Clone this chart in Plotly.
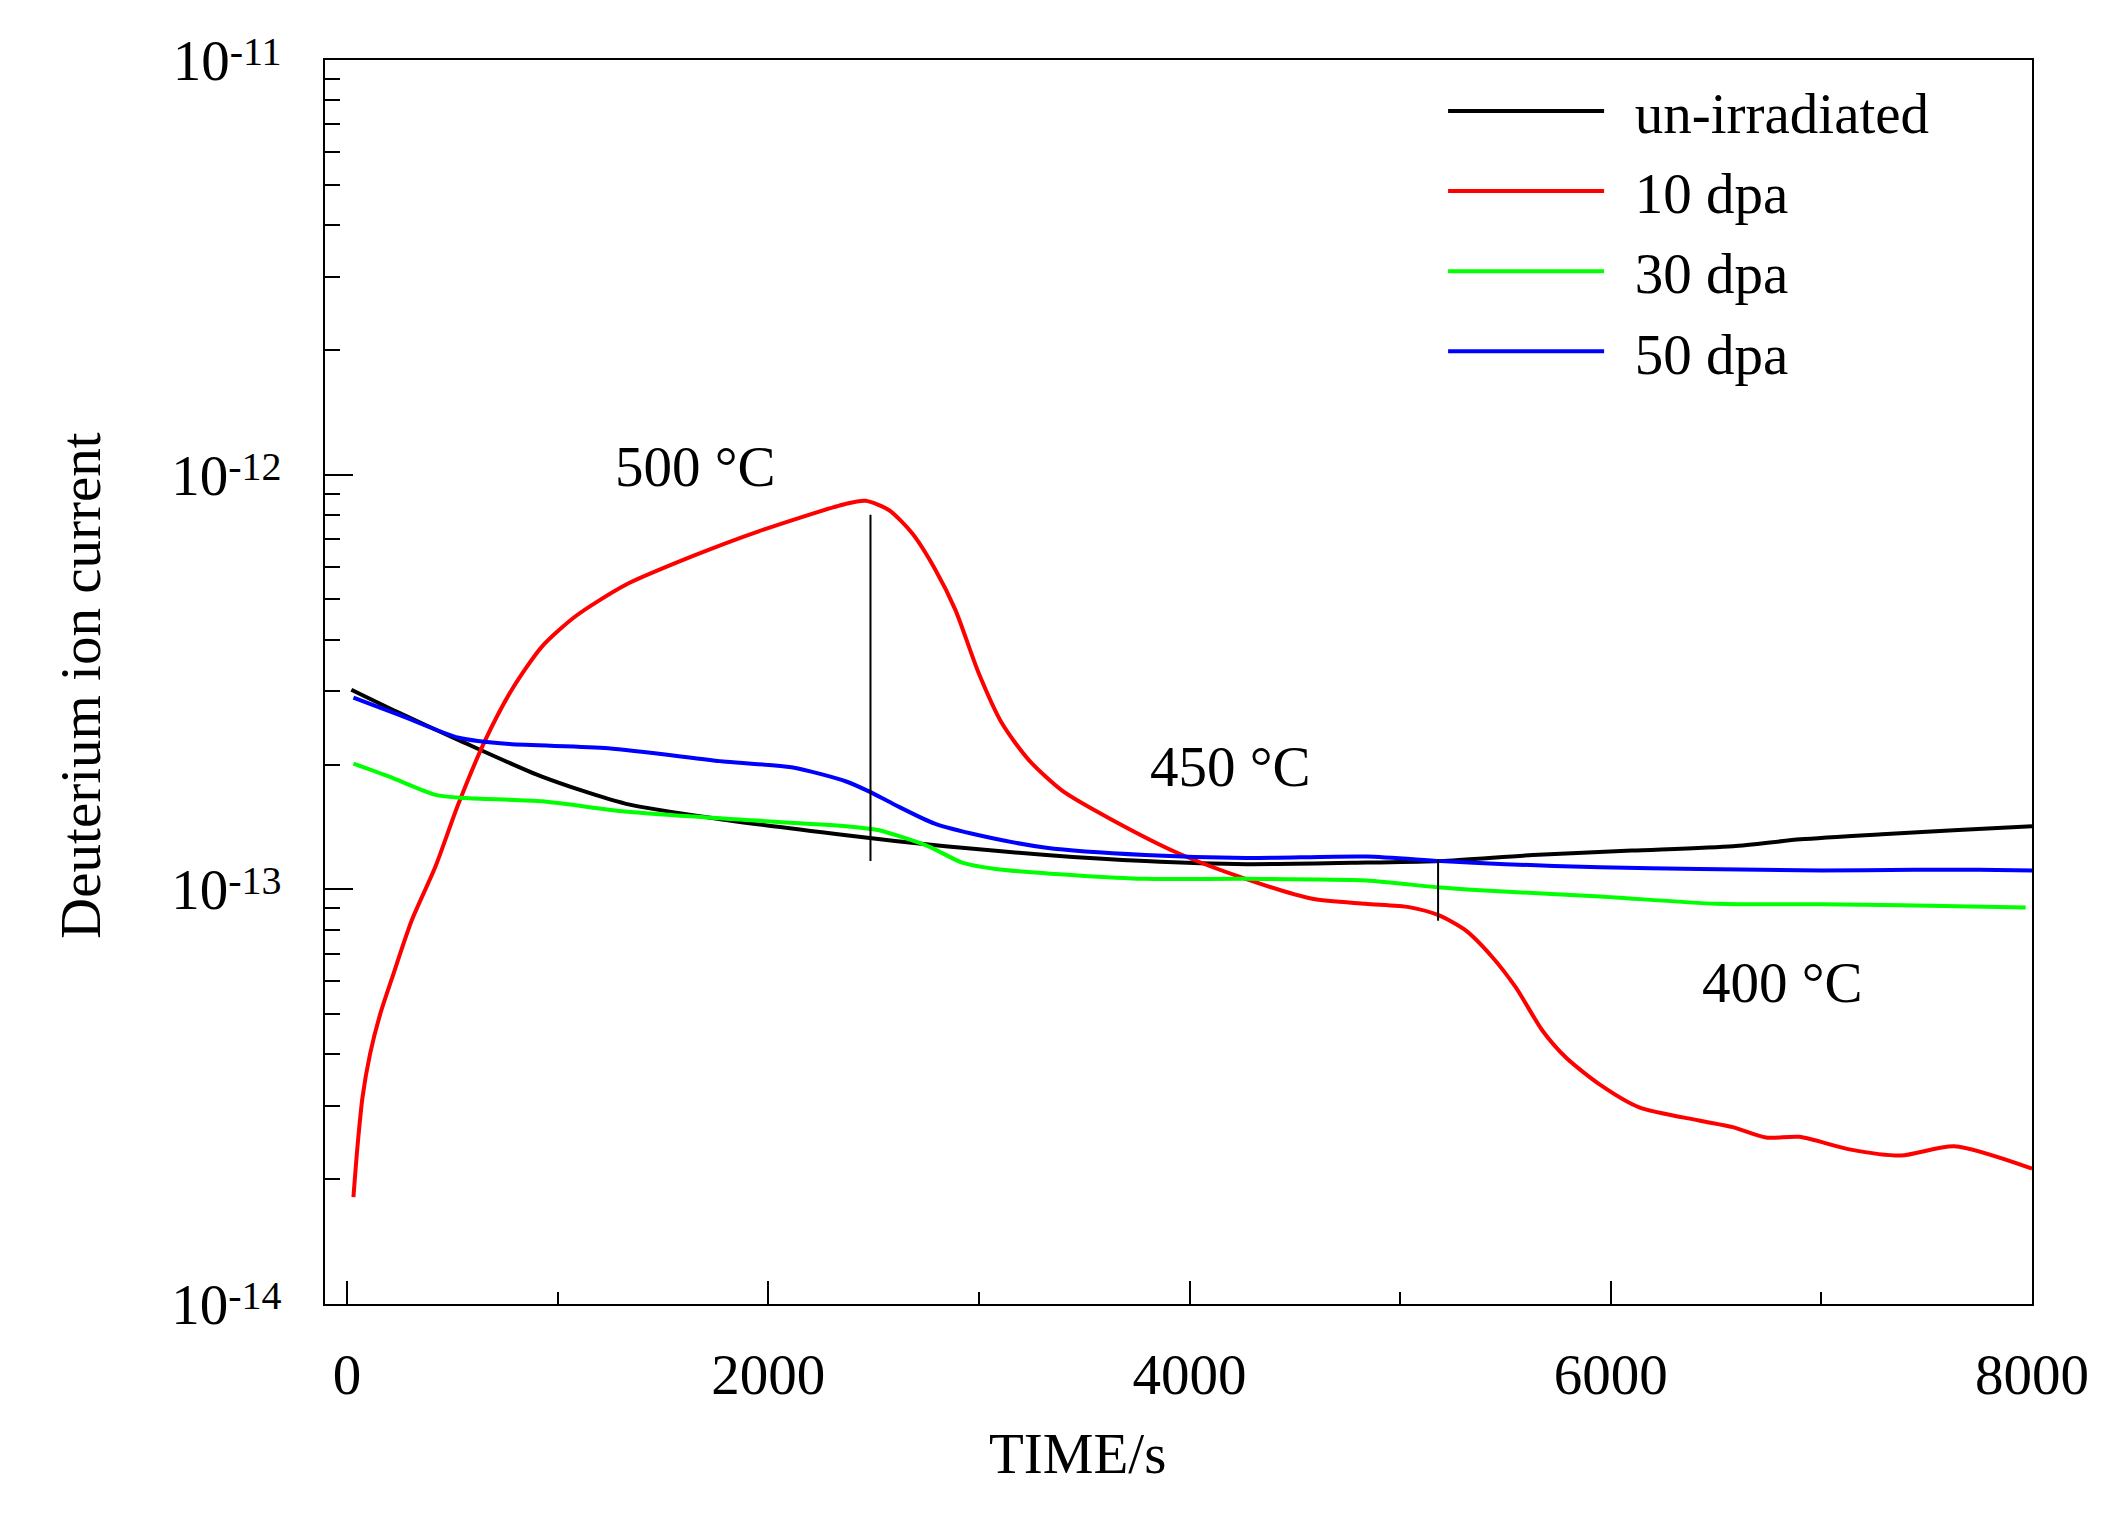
import math
import plotly.graph_objects as go

# ---------------- data ----------------
series_names = ["un-irradiated", "10 dpa", "30 dpa", "50 dpa"]
series_colors = ["#000000", "#ff0000", "#00ff00", "#0000ff"]

unirr_t = [20, 250, 530, 925, 1320, 1800, 2370, 2840, 3320, 3790, 4270, 4840,
           5190, 5630, 6100, 6580, 6900, 7310, 7650, 8000]
unirr_i = [3.03e-13, 2.66e-13, 2.29e-13, 1.87e-13, 1.61e-13, 1.47e-13, 1.35e-13,
           1.27e-13, 1.21e-13, 1.17e-13, 1.15e-13, 1.16e-13, 1.17e-13, 1.21e-13,
           1.24e-13, 1.27e-13, 1.32e-13, 1.36e-13, 1.39e-13, 1.42e-13]

dpa10_t = [30, 49, 73, 109, 157, 212, 307, 418, 529, 656, 782, 925, 1083, 1321,
           1637, 1954, 2366, 2461, 2572, 2683, 2793, 2888, 2999, 3110, 3237, 3395,
           3633, 3949, 4266, 4583, 4836, 5042, 5185, 5311, 5438, 5549, 5676, 5787,
           5945, 6135, 6420, 6579, 6737, 6895, 7133, 7378, 7631, 8000]
dpa10_i = [1.81e-14, 2.39e-14, 3.15e-14, 4.01e-14, 5.00e-14, 6.08e-14, 8.42e-14,
           1.13e-13, 1.61e-13, 2.29e-13, 3.03e-13, 3.85e-13, 4.55e-13, 5.42e-13,
           6.35e-13, 7.30e-13, 8.50e-13, 8.65e-13, 8.22e-13, 7.22e-13, 5.90e-13,
           4.72e-13, 3.32e-13, 2.51e-13, 2.05e-13, 1.73e-13, 1.47e-13, 1.22e-13,
           1.06e-13, 9.49e-14, 9.23e-14, 9.06e-14, 8.65e-14, 7.96e-14, 6.86e-14,
           5.80e-14, 4.56e-14, 3.93e-14, 3.39e-14, 2.98e-14, 2.77e-14, 2.67e-14,
           2.52e-14, 2.53e-14, 2.36e-14, 2.28e-14, 2.40e-14, 2.12e-14]

dpa30_t = [30, 200, 420, 560, 925, 1320, 1800, 2370, 2520, 2760, 2920, 3080, 3470,
           3790, 4270, 4840, 5190, 5470, 5950, 6500, 7000, 7380, 7970]
dpa30_i = [2.01e-13, 1.87e-13, 1.69e-13, 1.66e-13, 1.63e-13, 1.54e-13, 1.48e-13,
           1.42e-13, 1.39e-13, 1.27e-13, 1.16e-13, 1.12e-13, 1.08e-13, 1.06e-13,
           1.06e-13, 1.05e-13, 1.01e-13, 9.89e-14, 9.61e-14, 9.23e-14, 9.20e-14,
           9.15e-14, 9.04e-14]

dpa50_t = [30, 250, 530, 770, 1240, 1800, 2110, 2370, 2480, 2600, 2790, 3000, 3320,
           3790, 4270, 4840, 5190, 5500, 5950, 6420, 7000, 7440, 7750, 8000]
dpa50_i = [2.90e-13, 2.63e-13, 2.32e-13, 2.24e-13, 2.19e-13, 2.03e-13, 1.97e-13,
           1.82e-13, 1.72e-13, 1.60e-13, 1.44e-13, 1.35e-13, 1.26e-13, 1.21e-13,
           1.19e-13, 1.20e-13, 1.17e-13, 1.15e-13, 1.13e-13, 1.12e-13, 1.11e-13,
           1.115e-13, 1.115e-13, 1.11e-13]

# temperature-stage marker lines (time, lower current, upper current)
marker_t = [2485, 5180]
marker_lo = [1.17e-13, 8.4e-14]
marker_hi = [8.0e-13, 1.18e-13]

# temperature labels (text, time, current)
temp_text = ["500 \u00b0C", "450 \u00b0C", "400 \u00b0C"]
temp_t = [1653, 4195, 6817]
temp_i = [1.045e-12, 1.98e-13, 5.96e-14]

y_tick_vals = [1e-14, 1e-13, 1e-12, 1e-11]
y_tick_exps = ["-14", "-13", "-12", "-11"]
x_tick_vals = [0, 2000, 4000, 6000, 8000]
x_tick_text = ["0", "2000", "4000", "6000", "8000"]

# ---------------- figure ----------------
FONT = "Liberation Serif, Times New Roman, serif"
fig = go.Figure()

LEGEND_PAD = "\u00a0\u2009"  # small visual gap between legend line and label

all_t = [unirr_t, dpa10_t, dpa30_t, dpa50_t]
all_i = [unirr_i, dpa10_i, dpa30_i, dpa50_i]
for k, (name, col, t, i) in enumerate(zip(series_names, series_colors, all_t, all_i)):
    fig.add_trace(go.Scatter(
        x=t, y=i, mode="lines", name=LEGEND_PAD + name, legendgroup=f"g{k}",
        line=dict(color=col, width=4, shape="spline", smoothing=0.7),
    ))

for t, lo, hi in zip(marker_t, marker_lo, marker_hi):
    fig.add_trace(go.Scatter(x=[t, t], y=[lo, hi], mode="lines",
                             line=dict(color="black", width=2), showlegend=False,
                             hoverinfo="skip"))

for txt, t, i in zip(temp_text, temp_t, temp_i):
    fig.add_annotation(x=t, y=math.log10(i), xref="x", yref="y", text=txt,
                       showarrow=False, font=dict(family=FONT, size=57, color="black"),
                       xanchor="center", yanchor="middle")

fig.add_annotation(x=0.441, y=-0.1198, xref="paper", yref="paper", text="TIME/s",
                   showarrow=False, font=dict(family=FONT, size=57, color="black"),
                   xanchor="center", yanchor="middle")
fig.add_annotation(x=-0.143, y=0.4976, xref="paper", yref="paper",
                   text="Deuterium ion current", textangle=-90,
                   showarrow=False, font=dict(family=FONT, size=57, color="black"),
                   xanchor="center", yanchor="middle")

minor_y = [m * 10.0 ** e for e in range(-14, -11) for m in range(2, 10)]
y_tick_text = ["10<span style='font-size:40px;baseline-shift:15px'>" + e + "</span>"
               for e in y_tick_exps]

fig.update_xaxes(
    range=[-105, 8000], showgrid=False, zeroline=False,
    showline=True, linecolor="black", linewidth=2, mirror=True,
    tickmode="array", tickvals=x_tick_vals, ticktext=x_tick_text,
    ticks="inside", ticklen=23, tickwidth=1.5, tickcolor="black",
    tickfont=dict(family=FONT, size=57, color="black"),
    ticklabelstandoff=20,
    minor=dict(tickmode="array", tickvals=[1000, 3000, 5000, 7000], ticks="inside",
               ticklen=12, tickwidth=1.5, tickcolor="black", showgrid=False),
)
fig.update_yaxes(
    type="log", range=[-14, -11], showgrid=False, zeroline=False,
    showline=True, linecolor="black", linewidth=2, mirror=True,
    tickmode="array", tickvals=y_tick_vals, ticktext=y_tick_text,
    ticks="inside", ticklen=28, tickwidth=1.5, tickcolor="black",
    tickfont=dict(family=FONT, size=57, color="black"),
    ticklabelstandoff=30,
    minor=dict(tickmode="array", tickvals=minor_y, ticks="inside",
               ticklen=15, tickwidth=1.5, tickcolor="black", showgrid=False),
)

fig.update_layout(
    width=2122, height=1533,
    margin=dict(l=325, r=90, t=60, b=229),
    paper_bgcolor="white", plot_bgcolor="white",
    showlegend=True,
    legend=dict(x=0.655, y=0.994, xanchor="left", yanchor="top",
                font=dict(family=FONT, size=57, color="black"),
                itemwidth=156, traceorder="grouped", tracegroupgap=3,
                bgcolor="rgba(0,0,0,0)", borderwidth=0),
    font=dict(family=FONT, color="black"),
)

fig.write_html("out.html")
